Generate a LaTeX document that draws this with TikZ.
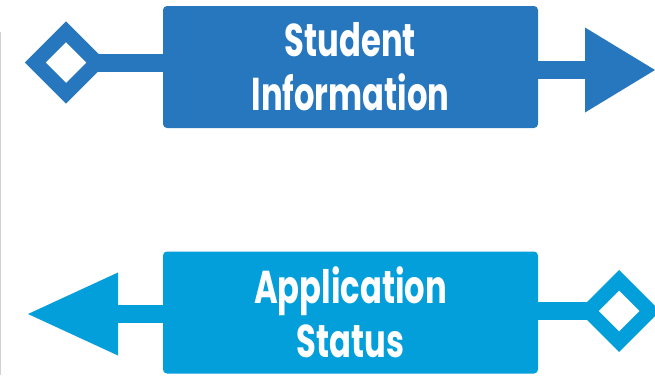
\documentclass[tikz,border=0pt]{standalone}
\usepackage{fontspec}
\newfontfamily\cardfont[FakeStretch=0.70]{Poppins}
\usetikzlibrary{arrows.meta, shapes.geometric, positioning}
\definecolor{infoblue}{HTML}{2777BE}
\definecolor{statusblue}{HTML}{029FDB}
\tikzset{
  card/.style={fill=#1, rounded corners=4pt, minimum width=375pt, minimum height=122pt,
    inner sep=0pt, outer sep=0pt, text=white, align=center,
    font=\cardfont\bfseries\fontsize{46}{54}\selectfont},
  gate/.style={diamond, draw=#1, fill=white, line width=14.5pt, inner sep=0pt,
    outer sep=0pt, minimum size=61.5pt},
  link/.style={draw=#1, line width=18pt}
}

\begin{document}
\begin{tikzpicture}[x=1pt, y=-1pt]
        \useasboundingbox (0,0) rectangle (655,375);
        \draw[gray!35, line width=1.2pt] (0.6,32) -- (0.6,375);
        \node[card=infoblue] (info) at (350.5,67) {Student\\Information};
        \node[card=statusblue] (status) at (350.5,312.5) {Application\\Status};
        \node[gate=infoblue] (infogate) at (66,62.5) {};
        \node[gate=statusblue] (statusgate) at (619,311) {};
        \coordinate (infotip) at (655,70);
        \coordinate (statustip) at (28,314);
        \draw[link=infoblue] (infogate.east) -- (infogate.east -| info.west);
        \draw[link=infoblue, -{Triangle[length=70pt, width=85pt, line width=0pt]}]
            (infotip -| info.east) -- (infotip);
        \draw[link=statusblue] (statusgate.west -| status.east) -- (statusgate.west);
        \draw[link=statusblue, -{Triangle[length=90pt, width=83pt, line width=0pt]}]
            (statustip -| status.west) -- (statustip);
\end{tikzpicture}
\end{document}
